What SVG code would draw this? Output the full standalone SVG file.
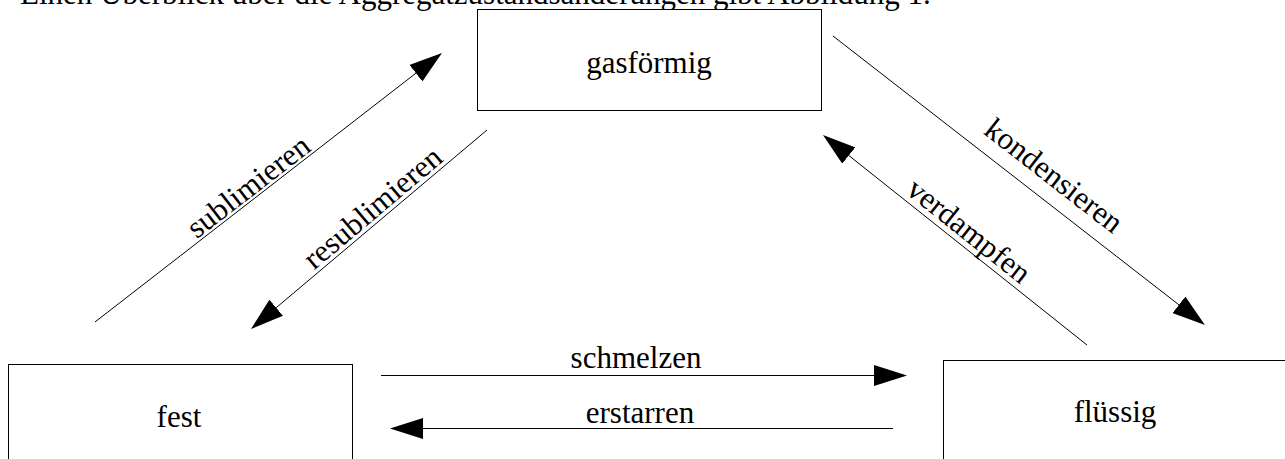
<svg xmlns="http://www.w3.org/2000/svg" width="1285" height="459" viewBox="0 0 1285 459">
  <style>
    text { font-family: "Liberation Serif", "Times New Roman", serif; font-size: 31px; fill: #000; }
    .box { fill: #fff; stroke: #000; stroke-width: 1; }
    .conn { stroke: #000; stroke-width: 1; fill: none; marker-end: url(#head); }
    .mid { text-anchor: middle; }
  </style>
  <defs>
    <marker id="head" viewBox="0 0 33 21" refX="0" refY="10.5" markerWidth="33" markerHeight="21" markerUnits="userSpaceOnUse" orient="auto">
      <path d="M0,0 L33,10.5 L0,21 Z" fill="#000"/>
    </marker>
  </defs>

  <rect width="1285" height="459" fill="#fff"/>

  <!-- running text line above the figure -->
  <text x="20" y="3.5">Einen Überblick über die Aggregatzustandsänderungen gibt Abbildung 1.</text>

  <!-- states -->
  <g id="gasfoermig">
    <rect class="box" x="477.5" y="9.5" width="344" height="101"/>
    <text class="mid" x="649" y="73">gasförmig</text>
  </g>
  <g id="fest">
    <rect class="box" x="8.5" y="364.5" width="344" height="120"/>
    <text class="mid" x="179" y="427">fest</text>
  </g>
  <g id="fluessig">
    <rect class="box" x="943.5" y="360.5" width="360" height="120"/>
    <text class="mid" x="1115" y="422">flüssig</text>
  </g>

  <!-- transitions -->
  <g id="connectors">
    <line class="conn" x1="381" y1="375.5" x2="874" y2="375.5"/>
    <text class="mid" x="636" y="368">schmelzen</text>

    <line class="conn" x1="893" y1="428.5" x2="423" y2="428.5"/>
    <text class="mid" x="640" y="423">erstarren</text>

    <line class="conn" x1="95" y1="322" x2="415.9" y2="73.2"/>
    <text class="mid" transform="translate(256.4,196.9) rotate(-37.74)" y="-3">sublimieren</text>

    <line class="conn" x1="487" y1="130" x2="276.2" y2="307.7"/>
    <text class="mid" transform="translate(381.8,218.6) rotate(-40.18)" y="-4">resublimieren</text>

    <line class="conn" x1="833" y1="36" x2="1178.9" y2="304.8"/>
    <text class="mid" transform="translate(1038.5,195.5) rotate(37.87)" y="-15">kondensieren</text>

    <line class="conn" x1="1087" y1="345" x2="848.8" y2="155.5"/>
    <text class="mid" transform="translate(959,243.4) rotate(38.5)" y="-6">verdampfen</text>
  </g>
</svg>
